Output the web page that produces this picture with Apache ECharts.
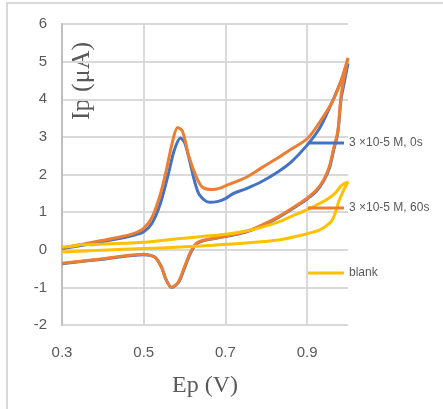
<!DOCTYPE html>
<html>
<head>
<meta charset="utf-8">
<script src="https://cdn.jsdelivr.net/npm/echarts@6/dist/echarts.min.js"></script>
<style>
  html, body { margin: 0; padding: 0; background: #fff; }
  #chart { width: 443px; height: 409px; }
</style>
</head>
<body>
<div id="chart"></div>
<script>
// CV scans: [potential (V), current (µA)], forward then reverse sweep
const scan0s = [
  [0.30, 0.03], [0.35, 0.12], [0.40, 0.22], [0.45, 0.32], [0.48, 0.40], [0.50, 0.48],
  [0.52, 0.70], [0.54, 1.20], [0.56, 2.00], [0.575, 2.65], [0.59, 2.97], [0.60, 2.85],
  [0.612, 2.38], [0.625, 1.80], [0.637, 1.45], [0.661, 1.26], [0.68, 1.28], [0.70, 1.36],
  [0.72, 1.50], [0.75, 1.62], [0.79, 1.82], [0.83, 2.08], [0.86, 2.32], [0.90, 2.78],
  [0.93, 3.22], [0.955, 3.78], [0.978, 4.35], [1.00, 4.95],
  [0.99, 4.40], [0.983, 4.00], [0.975, 3.10], [0.965, 2.65], [0.954, 2.15], [0.94, 1.82],
  [0.922, 1.55], [0.90, 1.35], [0.88, 1.20], [0.83, 0.86], [0.79, 0.64], [0.75, 0.47],
  [0.70, 0.35], [0.65, 0.25], [0.63, 0.16], [0.615, -0.08], [0.60, -0.48], [0.585, -0.87],
  [0.568, -1.00], [0.555, -0.80], [0.543, -0.45], [0.528, -0.20], [0.51, -0.14], [0.50, -0.13],
  [0.40, -0.25], [0.30, -0.37]
];
const scan60s = [
  [0.30, 0.05], [0.35, 0.15], [0.40, 0.25], [0.45, 0.36], [0.48, 0.45], [0.50, 0.57],
  [0.52, 0.85], [0.54, 1.45], [0.555, 2.10], [0.57, 2.85], [0.583, 3.25], [0.595, 3.15],
  [0.61, 2.50], [0.629, 1.93], [0.644, 1.66], [0.668, 1.60], [0.685, 1.63], [0.70, 1.70],
  [0.75, 1.92], [0.79, 2.19], [0.83, 2.45], [0.856, 2.64], [0.90, 2.95], [0.93, 3.38],
  [0.961, 3.92], [0.983, 4.50], [1.00, 5.10],
  [0.99, 4.55], [0.983, 4.10], [0.975, 3.15], [0.965, 2.70], [0.954, 2.20], [0.94, 1.85],
  [0.922, 1.58], [0.90, 1.37], [0.88, 1.22], [0.83, 0.88], [0.79, 0.66], [0.75, 0.48],
  [0.70, 0.36], [0.65, 0.26], [0.63, 0.18], [0.615, -0.05], [0.60, -0.45], [0.585, -0.85],
  [0.568, -1.00], [0.555, -0.80], [0.543, -0.45], [0.528, -0.20], [0.51, -0.13], [0.50, -0.12],
  [0.40, -0.24], [0.30, -0.36]
];
const scanBlank = [
  [0.30, 0.07], [0.33, 0.10], [0.35, 0.14], [0.36, 0.13], [0.40, 0.15], [0.50, 0.20],
  [0.59, 0.30], [0.70, 0.41], [0.75, 0.50], [0.79, 0.60], [0.83, 0.74], [0.86, 0.88],
  [0.89, 1.02], [0.91, 1.12], [0.946, 1.32], [0.97, 1.52], [0.985, 1.72], [1.00, 1.80],
  [0.99, 1.60], [0.978, 1.30], [0.97, 1.02], [0.961, 0.78], [0.945, 0.62], [0.93, 0.52],
  [0.888, 0.39], [0.83, 0.26], [0.75, 0.18], [0.67, 0.12], [0.59, 0.07], [0.50, 0.03],
  [0.40, -0.01], [0.30, -0.06]
];
const seriesNames = ['3 ×10-5 M, 0s', '3 ×10-5 M, 60s', 'blank'];
const xTicks = [0.3, 0.5, 0.7, 0.9];

const chart = echarts.init(document.getElementById('chart'));

const labelFont = 'Liberation Sans';
const titleFont = 'Liberation Serif';

const option = {
  animation: false,
  color: ['#4472C4', '#ED7D31', '#FFC000'],
  grid: {
    left: 62,
    right: 95,
    top: 24,
    bottom: 84
  },
  legend: {
    orient: 'vertical',
    left: 308,
    top: 136,
    padding: 0,
    icon: 'rect',
    itemWidth: 36,
    itemHeight: 3,
    itemGap: 51,
    data: seriesNames,
    textStyle: {
      fontFamily: labelFont,
      fontSize: 12,
      lineHeight: 14,
      color: '#595959'
    }
  },
  graphic: [
    {
      type: 'rect',
      silent: true,
      shape: { x: 7, y: 3, width: 600, height: 600 },
      style: { fill: 'none', stroke: '#d9d9d9', lineWidth: 2 }
    },
    {
      type: 'text',
      x: 82,
      y: 81,
      rotation: Math.PI / 2,
      style: {
        text: 'Ip (μA)',
        font: '26px "' + titleFont + '"',
        fill: '#595959',
        align: 'center',
        verticalAlign: 'middle'
      }
    }
  ],
  xAxis: {
    type: 'value',
    min: 0.3,
    max: 1.0,
    name: 'Ep (V)',
    nameLocation: 'middle',
    nameGap: 49,
    nameTextStyle: {
      fontFamily: titleFont,
      fontSize: 24,
      color: '#595959'
    },
    axisLine: { show: false },
    axisTick: { show: false, customValues: xTicks },
    axisLabel: {
      customValues: xTicks,
      margin: 20,
      fontFamily: labelFont,
      fontSize: 15,
      color: '#595959',
      formatter: v => v.toFixed(1)
    },
    splitLine: {
      show: true,
      lineStyle: { color: '#d9d9d9', width: 2 }
    }
  },
  yAxis: {
    type: 'value',
    min: -2,
    max: 6,
    interval: 1,
    axisLine: {
      show: true,
      lineStyle: { color: '#bfbfbf', width: 2 }
    },
    axisTick: { show: false },
    axisLabel: {
      margin: 15,
      fontFamily: labelFont,
      fontSize: 15,
      color: '#595959'
    },
    splitLine: {
      lineStyle: { color: '#d9d9d9', width: 2 }
    }
  },
  series: [
    {
      name: seriesNames[0],
      type: 'line',
      data: scan0s,
      smooth: 0.3,
      symbol: 'none',
      lineStyle: { width: 3 }
    },
    {
      name: seriesNames[1],
      type: 'line',
      data: scan60s,
      smooth: 0.3,
      symbol: 'none',
      lineStyle: { width: 3 }
    },
    {
      name: seriesNames[2],
      type: 'line',
      data: scanBlank,
      smooth: 0.3,
      symbol: 'none',
      lineStyle: { width: 3 }
    }
  ]
};

chart.setOption(option);
</script>
</body>
</html>
